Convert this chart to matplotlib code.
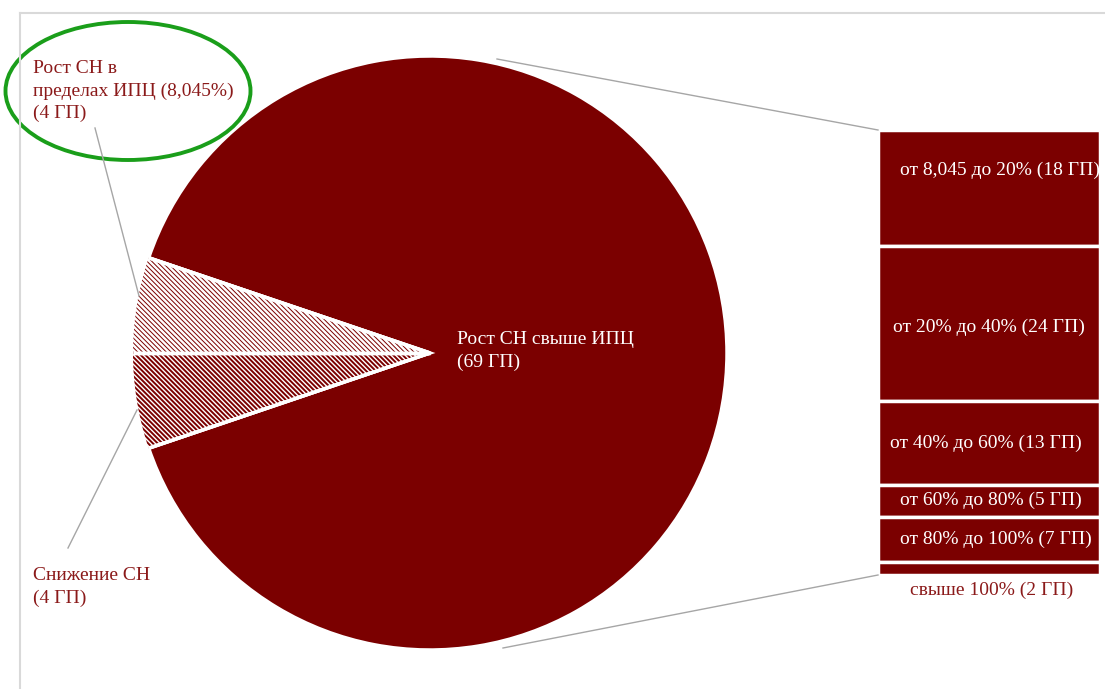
#!/usr/bin/env python3
"""Pie-of-bar: распределение ГП по росту СН."""

import numpy as np
import matplotlib
matplotlib.use('Agg')
import matplotlib.pyplot as plt
from matplotlib.patches import Ellipse

plt.rcParams.update({
    'font.family': ['Liberation Serif', 'DejaVu Serif'],
    'font.size': 14,
})

MAROON = '#7b0000'
TEXT_RED = '#8b1a1a'
GREY = '#a6a6a6'

# --- data ---
pie_names = ['Рост СН свыше ИПЦ', 'Снижение СН', 'Рост СН в\nпределах ИПЦ (8,045%)']
pie_values = [69, 4, 4]
bar_ranges = ['от 8,045 до 20%', 'от 20% до 40%', 'от 40% до 60%',
              'от 60% до 80%', 'от 80% до 100%', 'свыше 100%']
bar_values = [18, 24, 13, 5, 7, 2]

fig = plt.figure(figsize=(11.05, 6.89), dpi=100)
ax = fig.add_axes([0, 0, 1, 1])

# == pie (pixel coords, y down) ==
cx, cy, r = 430, 353, 297
start = 180 + 360 * pie_values[1] / sum(pie_values)
wedges, _ = ax.pie(pie_values, center=(cx, cy), radius=r, startangle=start,
                   colors=[MAROON, 'white', 'white'],
                   wedgeprops=dict(edgecolor='white', linewidth=2.5))
ax.set_ylim(689, 0)
ax.set_xlim(0, 1105)
ax.set_aspect('equal')
ax.axis('off')

# hatched wedges: lower one with thicker lines
hatch_specs = [(None, None), ('\\' * 7, 1.4), ('\\' * 7, 0.7)]
for w, (h, lw) in zip(wedges, hatch_specs):
    if h:
        w.set_hatch(h)
        if hasattr(w, 'set_hatch_linewidth'):
            w.set_hatch_linewidth(lw)
        if hasattr(w, 'set_hatchcolor'):
            w.set_hatchcolor(MAROON)
            w.set_edgecolor('white')
        else:
            w.set_edgecolor(MAROON)
            w.set_linewidth(0)

# white separators drawn over the hatch
for w in wedges:
    for ang in (w.theta1, w.theta2):
        t = np.deg2rad(ang)
        ax.plot([cx, cx + r * np.cos(t)], [cy, cy + r * np.sin(t)],
                color='white', lw=2.5, solid_capstyle='butt')

ax.text(457, 351, f'{pie_names[0]}\n({pie_values[0]} ГП)', color='white',
        ha='left', va='center', linespacing=1.4)

# == stacked bar ==
bx0, bx1, btop, bbot = 878, 1100, 130, 575
scale = (bbot - btop) / sum(bar_values)
bottoms = btop + np.concatenate([[0], np.cumsum(bar_values)[:-1]]) * scale
ax.bar([(bx0 + bx1) / 2] * len(bar_values), np.array(bar_values) * scale,
       width=bx1 - bx0, bottom=bottoms, color=MAROON, edgecolor='white',
       linewidth=2.5)

label_x = [1000, 989, 986, 991, 996, 992]
label_dy = [-18, 4, 1, 0, 0, 0]
for i, (name, v) in enumerate(zip(bar_ranges, bar_values)):
    txt = f'{name} ({v} ГП)'
    mid = bottoms[i] + v * scale / 2
    if i == len(bar_values) - 1:
        ax.text(label_x[i], 590, txt, color=TEXT_RED, ha='center', va='center')
    else:
        ax.text(label_x[i], mid + label_dy[i], txt, color='white',
                ha='center', va='center')

# connectors pie -> bar
ax.plot([497, bx0], [59, btop], color=GREY, lw=1)
ax.plot([503, bx0], [648, bbot], color=GREY, lw=1)

# outside labels with leaders
ax.text(33, 91, f'{pie_names[2]}\n({pie_values[2]} ГП)', color=TEXT_RED,
        ha='left', va='center', linespacing=1.4)
ax.plot([95, 139], [128, 296], color=GREY, lw=1)
ax.text(33, 587, f'{pie_names[1]}\n({pie_values[1]} ГП)', color=TEXT_RED,
        ha='left', va='center', linespacing=1.4)
ax.plot([68, 137], [548, 410], color=GREY, lw=1)

# highlight ellipse
ax.add_patch(Ellipse((128, 91), 245, 138, fill=False, edgecolor='#1a9e1a', lw=2.8))

# chart area border (top and left visible)
ax.plot([20, 1105], [13, 13], color='#d9d9d9', lw=1.5, clip_on=False)
ax.plot([20, 20], [13, 689], color='#d9d9d9', lw=1.5, clip_on=False)

fig.savefig('out.png', dpi=100, facecolor='white')
